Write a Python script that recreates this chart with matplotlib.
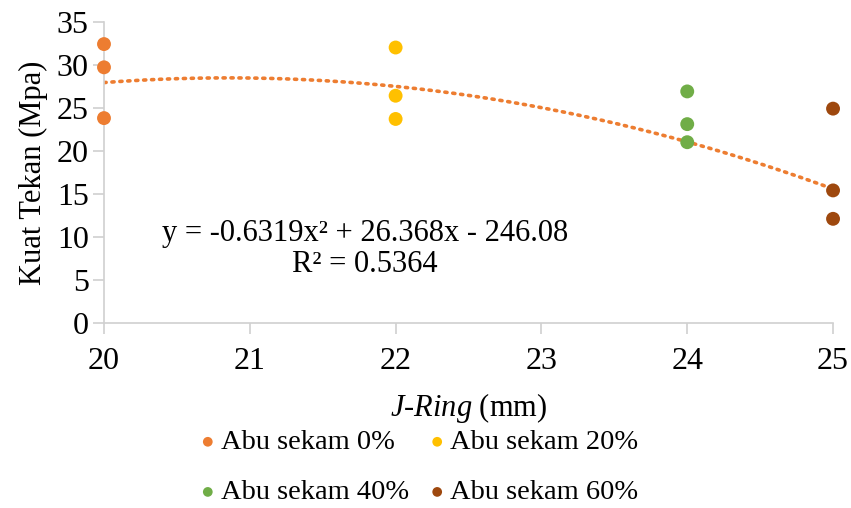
import matplotlib
matplotlib.use('Agg')
from matplotlib import pyplot as plt
import numpy as np

plt.rcParams['font.family'] = 'serif'
plt.rcParams['font.serif'] = ['Liberation Serif', 'Times New Roman', 'DejaVu Serif']
plt.rcParams['mathtext.fontset'] = 'custom'
plt.rcParams['mathtext.rm'] = 'Liberation Serif'
plt.rcParams['mathtext.it'] = 'Liberation Serif:italic'

# data
series_names = ['Abu sekam 0%', 'Abu sekam 20%', 'Abu sekam 40%', 'Abu sekam 60%']
series_colors = ['#ED7D31', '#FFC000', '#70AD47', '#9E480E']
jring_0 = [20, 20, 20]
kuat_0 = [32.4, 29.7, 23.8]
jring_20 = [22, 22, 22]
kuat_20 = [32.0, 26.4, 23.7]
jring_40 = [24, 24, 24]
kuat_40 = [26.9, 23.1, 21.0]
jring_60 = [25, 25, 25]
kuat_60 = [24.9, 15.4, 12.1]

# trendline as drawn in the chart (read points)
trend_x = [20, 21, 22, 23, 24, 25]
trend_y = [27.9, 28.5, 27.5, 25.0, 21.0, 15.6]

equation = 'y = -0.6319x\u00b2 + 26.368x - 246.08\nR\u00b2 = 0.5364'

fig = plt.figure(figsize=(8.51, 5.08), dpi=100)
ax = fig.add_axes([0.1222, 0.3642, 0.8567, 0.5931])

xs = [jring_0, jring_20, jring_40, jring_60]
ys = [kuat_0, kuat_20, kuat_40, kuat_60]
handles = []
for x, y, name, c in zip(xs, ys, series_names, series_colors):
    h = ax.scatter(x, y, s=100, color=c, label=name, zorder=3, clip_on=False,
                   edgecolors='none')
    handles.append(h)

coef = np.polyfit(trend_x, trend_y, 2)
xx = np.linspace(20, 25, 200)
ax.plot(xx, np.polyval(coef, xx), linestyle=(0, (0.6, 1.6)), color='#ED7D31',
        linewidth=2.6, dash_capstyle='round', zorder=2)

ax.text(21.79, 8.6, equation, ha='center', va='center', fontsize=22,
        multialignment='center', linespacing=1.1)

ax.set_xlim(20, 25)
ax.set_ylim(0, 35)
ax.set_xticks(range(20, 26))
ax.set_yticks(range(0, 36, 5))
for s in ['top', 'right']:
    ax.spines[s].set_visible(False)
for s in ['left', 'bottom']:
    ax.spines[s].set_color('#d0d0d0')
    ax.spines[s].set_linewidth(1.2)
ax.tick_params(axis='both', colors='#d0d0d0', labelcolor='black',
               labelsize=23, length=8, width=1.2)
ax.tick_params(axis='x', pad=9)
ax.tick_params(axis='y', pad=3)

ax.set_xlabel(r'$\mathit{J}$-$\mathit{Ring}$ (mm)', fontsize=22, labelpad=11)
ax.set_ylabel('Kuat Tekan (Mpa)', fontsize=22, labelpad=6)

# row-wise order for a 2-column legend
order = [0, 2, 1, 3]
fig.legend([handles[i] for i in order], [series_names[i] for i in order],
           loc='center', bbox_to_anchor=(0.492, 0.08), ncol=2,
           frameon=False, fontsize=20.5, handlelength=0.6, handletextpad=0.15,
           columnspacing=0.7, labelspacing=0.85, markerscale=0.7,
           borderaxespad=0, borderpad=0)

fig.savefig('out.png', dpi=100)
